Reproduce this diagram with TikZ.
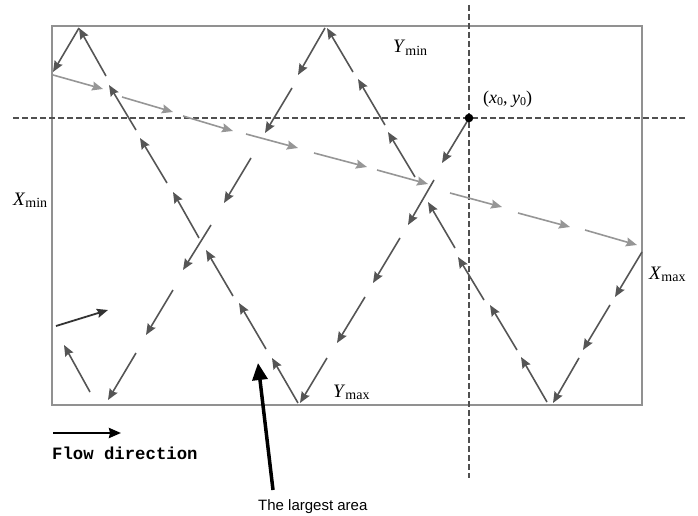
\documentclass[tikz,border=0pt]{standalone}
\usepackage{fontspec}
\setmainfont{Liberation Serif}
\newfontfamily\arialf{Liberation Sans}
\newfontfamily\courf{Liberation Mono}
\usetikzlibrary{arrows.meta}
\definecolor{darkarr}{RGB}{85,85,85}
\definecolor{lightarr}{RGB}{150,150,150}
\definecolor{boxgray}{RGB}{145,145,145}
\definecolor{dashgray}{RGB}{80,80,80}
\newcommand\lbl[2]{\textit{#1}\raisebox{-2.5pt}{\fontsize{14}{14}\selectfont #2}}
\begin{document}
\begin{tikzpicture}[x=1pt,y=-1pt,
  darkarrow/.style={draw=darkarr, line width=1.6pt, -{Stealth[length=11pt,width=9pt,inset=1.5pt]}},
  lightarrow/.style={draw=lightarr, line width=1.6pt, -{Stealth[length=11pt,width=9pt,inset=1.5pt]}},
  guide/.style={draw=dashgray, line width=1.1pt, dash pattern=on 6pt off 3pt},
  label/.style={anchor=base west, inner sep=0pt, font=\fontsize{19}{22}\selectfont}
]
\useasboundingbox (0,0) rectangle (698,516);
% frame
\draw[boxgray, line width=1.5pt] (52,26) rectangle (642,405);
% guide lines
\coordinate (hl) at (13,118);
\coordinate (hr) at (685,118);
\coordinate (vt) at (469,5);
\coordinate (vb) at (469,478);
\draw[guide] (hl) -- (hr);
\draw[guide] (vt) -- (vb);
% light grey trajectory
\foreach \ax/\ay/\bx/\by in {53/75/103/89, 122/97/173/112, 183/116/233/131, 246/134/298/148,
  314/153/367/167, 377/170/428/184, 450/193/502/207, 518/213/570/227, 585/230/637/245}
  \draw[lightarrow] (\ax,\ay) -- (\bx,\by);
% dark trajectories
\foreach \ax/\ay/\bx/\by in {
  468/120/442/163, 434/180/408/225, 400/238/373/283, 365/297/337/343, 327/358/300/403,
  298/403/272/358, 266/349/239/303, 233/296/206/250, 199/238/173/192, 167/183/140/138,
  136/130/109/85, 106/76/79/28, 79/28/53/72,
  642/252/615/297, 610/305/583/350, 579/358/553/403,
  547/402/521/357, 517/350/490/305, 484/300/458/257, 455/248/428/202, 415/177/388/132,
  385/125/358/79, 353/72/327/28,
  325/28/298/75, 292/88/265/133, 251/158/224/203, 211/225/183/270, 173/290/146/335,
  136/353/108/400,
  90/392/64/345}
  \draw[darkarrow] (\ax,\ay) -- (\bx,\by);
\draw[draw=black!80, line width=1.8pt, -{Stealth[length=11pt,width=9pt,inset=1.5pt]}] (56,326) -- (108,310);
% start point
\fill[black] (469,118) circle (4.3pt);
\node[label, font=\fontsize{18}{22}\selectfont] (p0) at (483,103) {(\textit{x}\raisebox{-2.5pt}{\fontsize{12}{12}\selectfont 0}, \textit{y}\raisebox{-2.5pt}{\fontsize{12}{12}\selectfont 0})};
% labels
\node[label] (ymin) at (393,53) {\lbl{Y}{min}};
\node[label] (xmin) at (13,205) {\lbl{X}{min}};
\node[label] (xmax) at (649,279) {\lbl{X}{max}};
\node[label] (ymax) at (333,397) {\lbl{Y}{max}};
% flow direction
\coordinate (fa) at (53,433);
\coordinate (fb) at (121,433);
\draw[black, line width=2.4pt, -{Stealth[length=12pt,width=10pt,inset=1pt]}] (fa) -- (fb);
\node[anchor=base west, inner sep=0pt, font=\courf\bfseries\fontsize{17.3}{20}\selectfont] (flow) at (52,459) {Flow direction};
% largest area
\node[anchor=base west, inner sep=0pt, font=\arialf\fontsize{15}{18}\selectfont] (area) at (258,510) {The largest area};
\coordinate (bt) at (258,363);
\coordinate (bs) at (273,490);
\draw[black, line width=3.5pt, -{Triangle[length=17pt,width=15pt]}] (bs) -- (bt);
\end{tikzpicture}
\end{document}
